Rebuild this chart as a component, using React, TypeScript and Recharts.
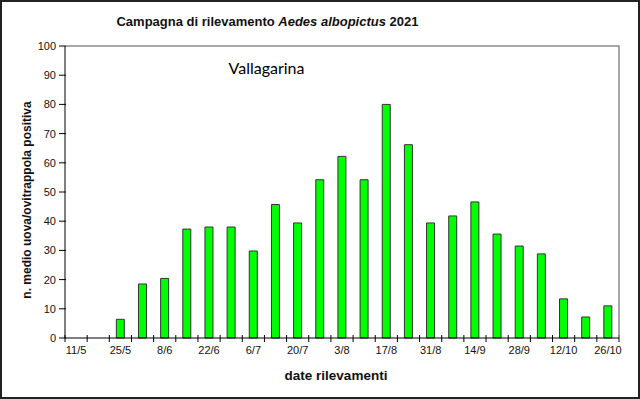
import React from "react";
import { BarChart, Bar, XAxis, YAxis } from "recharts";

const dates = [
  "11/5", "18/5", "25/5", "1/6", "8/6", "15/6", "22/6", "29/6", "6/7", "13/7",
  "20/7", "27/7", "3/8", "10/8", "17/8", "24/8", "31/8", "7/9", "14/9", "21/9",
  "28/9", "5/10", "12/10", "19/10", "26/10",
];
const values: (number | null)[] = [
  null, null, 6.4, 18.5, 20.4, 37.3, 38.0, 38.0, 29.8, 45.7,
  39.4, 54.2, 62.2, 54.2, 80.0, 66.2, 39.4, 41.8, 46.6, 35.6,
  31.5, 28.8, 13.4, 7.2, 11.0,
];
const yTicks = [0, 10, 20, 30, 40, 50, 60, 70, 80, 90, 100];

const title = "Campagna di rilevamento ";
const titleItalic = "Aedes albopictus";
const titleEnd = " 2021";
const subtitle = "Vallagarina";
const yLabel = "n. medio uova/ovitrappola positiva";
const xLabel = "date rilevamenti";

const data = dates.map((d, i) => ({ date: d, value: values[i] }));

const FONT = "'Liberation Sans', Arial, sans-serif";

// layout
const W = 640;
const H = 399;
const M_TOP = 46;
const M_RIGHT = 21;
const Y_AXIS_W = 65;
const X_AXIS_H = 61;

const XTick = (props: any) => {
  const { x, y, payload, index } = props;
  const off = payload && payload.offset != null ? payload.offset : 11.07;
  return (
    <g>
      <line x1={x - off} x2={x - off} y1={y - 3} y2={y + 4} stroke="#000" strokeWidth={1} />
      {index === dates.length - 1 && (
        <line x1={x + off} x2={x + off} y1={y - 3} y2={y + 4} stroke="#000" strokeWidth={1} />
      )}
      {index % 2 === 0 && (
        <text x={x} y={y + 16} textAnchor="middle" fontSize={11} fontFamily={FONT} fill="#111">
          {payload.value}
        </text>
      )}
    </g>
  );
};

const YTick = (props: any) => {
  const { x, y, payload } = props;
  return (
    <g>
      <line x1={x - 6} x2={x + 1} y1={y} y2={y} stroke="#000" strokeWidth={1} />
      <text x={x - 9} y={y + 4} textAnchor="end" fontSize={11} fontFamily={FONT} fill="#111">
        {payload.value}
      </text>
    </g>
  );
};

export default function App() {
  const plotRight = W - M_RIGHT;
  const plotBottom = H - X_AXIS_H;
  return (
    <div style={{ position: "absolute", left: 0, top: 0, width: W, height: H, background: "#fff" }}>
      <div style={{ position: "absolute", left: 0, top: 0 }}>
        <BarChart
          width={W}
          height={H}
          data={data}
          margin={{ top: M_TOP, right: M_RIGHT, bottom: 0, left: 0 }}
        >
          <XAxis
            dataKey="date"
            interval={0}
            height={X_AXIS_H}
            tickSize={0}
            tickMargin={0}
            tickLine={false}
            axisLine={{ stroke: "#000", strokeWidth: 1 }}
            tick={<XTick />}
          />
          <YAxis
            domain={[0, 100]}
            ticks={yTicks}
            width={Y_AXIS_W}
            interval={0}
            tickSize={0}
            tickMargin={0}
            tickLine={false}
            axisLine={{ stroke: "#000", strokeWidth: 1 }}
            tick={<YTick />}
          />
          <Bar
            dataKey="value"
            fill="#00ff00"
            stroke="#333"
            strokeWidth={1}
            barSize={8}
            isAnimationActive={false}
          />
        </BarChart>
      </div>
      <svg
        width={W}
        height={H}
        style={{ position: "absolute", left: 0, top: 0, pointerEvents: "none" }}
      >
        <path
          d={`M${Y_AXIS_W + 1} ${M_TOP}H${plotRight}V${plotBottom - 1}`}
          fill="none"
          stroke="#8c8c8c"
          strokeWidth={1.5}
        />
        <text x={267.5} y={25.5} textAnchor="middle" fontSize={13} fontWeight="bold" fontFamily={FONT} fill="#111">
          {title}
          <tspan fontStyle="italic">{titleItalic}</tspan>
          {titleEnd}
        </text>
        <text x={266.5} y={73.5} textAnchor="middle" fontSize={16} fontFamily="Lato, 'Open Sans', sans-serif" fill="#000">
          {subtitle}
        </text>
        <text
          transform="translate(31,200) rotate(-90)"
          textAnchor="middle"
          fontSize={12}
          fontWeight="bold"
          fontFamily={FONT}
          fill="#111"
        >
          {yLabel}
        </text>
        <text x={336} y={380} textAnchor="middle" fontSize={13.5} fontWeight="bold" fontFamily={FONT} fill="#111">
          {xLabel}
        </text>
      </svg>
      <div
        style={{
          position: "absolute",
          left: 0,
          top: 0,
          width: W,
          height: H,
          boxSizing: "border-box",
          border: "2px solid #222",
          pointerEvents: "none",
        }}
      />
    </div>
  );
}
